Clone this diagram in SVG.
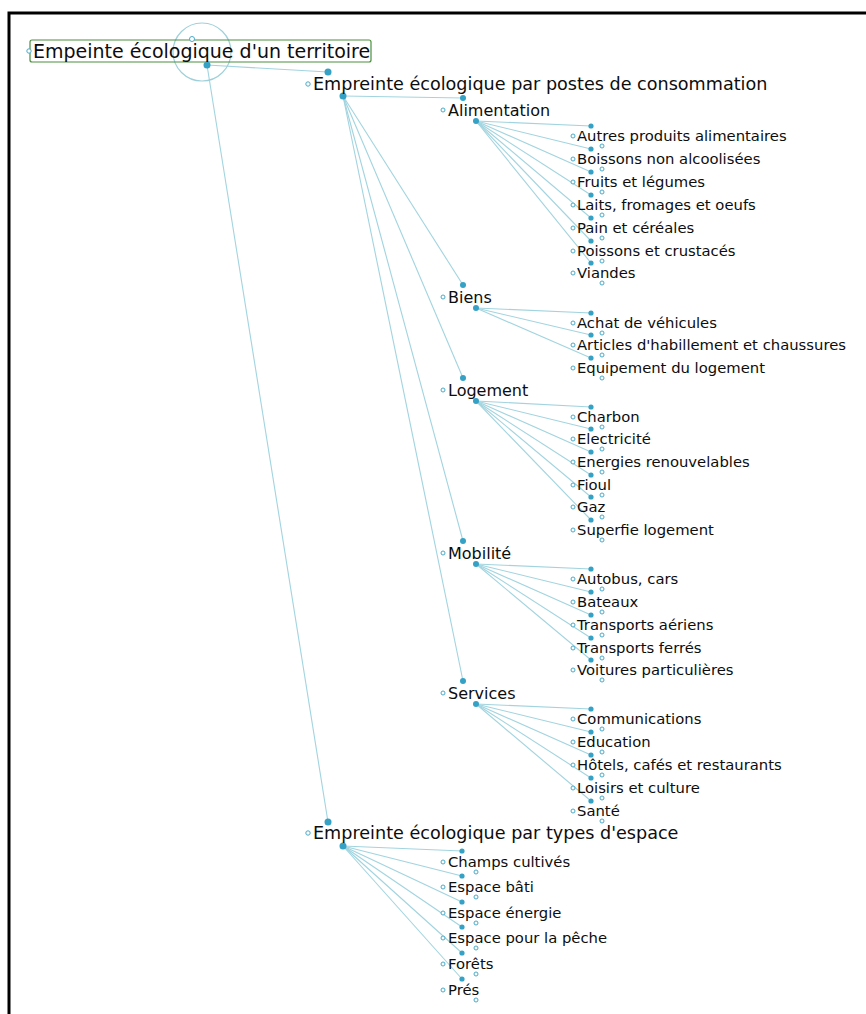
<svg xmlns="http://www.w3.org/2000/svg" width="866" height="1014" viewBox="0 0 866 1014">
<style>
.ln{stroke:#a2d4df;stroke-width:1.1;fill:none}
.dot{fill:#35a2c5}
.port{fill:#fff;stroke:#4aaac8;stroke-width:1}
text{font-family:"DejaVu Sans","Liberation Sans",sans-serif;fill:#0d0d0d}
.t0{font-size:19px}
.t1{font-size:17.6px}
.t2{font-size:16px}
.t3{font-size:14.8px}
</style>
<rect width="866" height="1014" fill="#fff"/>
<path d="M9,1014 V13 H866" fill="none" stroke="#000" stroke-width="3"/>
<g id="connectors">
<line class="ln" x1="207" y1="65" x2="328" y2="72"/>
<line class="ln" x1="207" y1="65" x2="328" y2="822"/>
<line class="ln" x1="343" y1="96" x2="463" y2="98"/>
<line class="ln" x1="343" y1="96" x2="463" y2="285"/>
<line class="ln" x1="343" y1="96" x2="463" y2="378"/>
<line class="ln" x1="343" y1="96" x2="463" y2="541"/>
<line class="ln" x1="343" y1="96" x2="463" y2="681"/>
<line class="ln" x1="476" y1="121" x2="591" y2="126"/>
<line class="ln" x1="476" y1="121" x2="591" y2="149"/>
<line class="ln" x1="476" y1="121" x2="591" y2="172"/>
<line class="ln" x1="476" y1="121" x2="591" y2="195"/>
<line class="ln" x1="476" y1="121" x2="591" y2="218"/>
<line class="ln" x1="476" y1="121" x2="591" y2="241"/>
<line class="ln" x1="476" y1="121" x2="591" y2="263"/>
<line class="ln" x1="476" y1="308" x2="591" y2="313"/>
<line class="ln" x1="476" y1="308" x2="591" y2="335"/>
<line class="ln" x1="476" y1="308" x2="591" y2="358"/>
<line class="ln" x1="476" y1="401" x2="591" y2="407"/>
<line class="ln" x1="476" y1="401" x2="591" y2="429"/>
<line class="ln" x1="476" y1="401" x2="591" y2="452"/>
<line class="ln" x1="476" y1="401" x2="591" y2="475"/>
<line class="ln" x1="476" y1="401" x2="591" y2="497"/>
<line class="ln" x1="476" y1="401" x2="591" y2="520"/>
<line class="ln" x1="476" y1="564" x2="591" y2="569"/>
<line class="ln" x1="476" y1="564" x2="591" y2="592"/>
<line class="ln" x1="476" y1="564" x2="591" y2="615"/>
<line class="ln" x1="476" y1="564" x2="591" y2="638"/>
<line class="ln" x1="476" y1="564" x2="591" y2="660"/>
<line class="ln" x1="476" y1="704" x2="591" y2="709"/>
<line class="ln" x1="476" y1="704" x2="591" y2="732"/>
<line class="ln" x1="476" y1="704" x2="591" y2="755"/>
<line class="ln" x1="476" y1="704" x2="591" y2="778"/>
<line class="ln" x1="476" y1="704" x2="591" y2="801"/>
<line class="ln" x1="343" y1="846" x2="462" y2="851"/>
<line class="ln" x1="343" y1="846" x2="462" y2="876"/>
<line class="ln" x1="343" y1="846" x2="462" y2="902"/>
<line class="ln" x1="343" y1="846" x2="462" y2="927"/>
<line class="ln" x1="343" y1="846" x2="462" y2="953"/>
<line class="ln" x1="343" y1="846" x2="462" y2="979"/>
</g>
<g id="root">
<circle cx="202" cy="52" r="29" fill="none" stroke="#9fd0da" stroke-width="1.2"/>
<rect x="30" y="40" width="341" height="22" rx="2" fill="none" stroke="#4a8f3c" stroke-width="1.2"/>
<circle class="port" cx="29" cy="51" r="2.2"/>
<circle class="port" cx="192" cy="39" r="2.5"/>
<circle class="dot" cx="207" cy="65" r="3.5"/>
<text class="t0" x="33" y="57.5">Empeinte écologique d'un territoire</text>
</g>
<g id="postes">
<circle class="dot" cx="328" cy="72" r="3.5"/>
<circle class="port" cx="308" cy="84" r="2.2"/>
<circle class="dot" cx="343" cy="96" r="3.5"/>
<text class="t1" x="313" y="90">Empreinte écologique par postes de consommation</text>
</g>
<g id="types">
<circle class="dot" cx="328" cy="822" r="3.5"/>
<circle class="port" cx="308" cy="833" r="2.2"/>
<circle class="dot" cx="343" cy="846" r="3.5"/>
<text class="t1" x="313" y="839">Empreinte écologique par types d'espace</text>
</g>
<g id="alimentation"><circle class="dot" cx="463" cy="98" r="3"/><circle class="port" cx="443" cy="110" r="2"/><circle class="dot" cx="476" cy="121" r="3"/><text class="t2" x="448" y="115.5">Alimentation</text></g>
<g id="biens"><circle class="dot" cx="463" cy="285" r="3"/><circle class="port" cx="443" cy="297" r="2"/><circle class="dot" cx="476" cy="308" r="3"/><text class="t2" x="448" y="302.5">Biens</text></g>
<g id="logement"><circle class="dot" cx="463" cy="378" r="3"/><circle class="port" cx="443" cy="390" r="2"/><circle class="dot" cx="476" cy="401" r="3"/><text class="t2" x="448" y="395.5">Logement</text></g>
<g id="mobilite"><circle class="dot" cx="463" cy="541" r="3"/><circle class="port" cx="443" cy="553" r="2"/><circle class="dot" cx="476" cy="564" r="3"/><text class="t2" x="448" y="558.5">Mobilité</text></g>
<g id="services"><circle class="dot" cx="463" cy="681" r="3"/><circle class="port" cx="443" cy="693" r="2"/><circle class="dot" cx="476" cy="704" r="3"/><text class="t2" x="448" y="698.5">Services</text></g>
<g id="autres"><circle class="dot" cx="591" cy="126" r="2.6"/><circle class="port" cx="573" cy="136" r="2"/><circle class="port" cx="602" cy="146" r="2"/><text class="t3" x="577" y="141">Autres produits alimentaires</text></g>
<g id="boissons"><circle class="dot" cx="591" cy="149" r="2.6"/><circle class="port" cx="573" cy="159" r="2"/><circle class="port" cx="602" cy="169" r="2"/><text class="t3" x="577" y="164">Boissons non alcoolisées</text></g>
<g id="fruits"><circle class="dot" cx="591" cy="172" r="2.6"/><circle class="port" cx="573" cy="182" r="2"/><circle class="port" cx="602" cy="192" r="2"/><text class="t3" x="577" y="187">Fruits et légumes</text></g>
<g id="laits"><circle class="dot" cx="591" cy="195" r="2.6"/><circle class="port" cx="573" cy="205" r="2"/><circle class="port" cx="602" cy="215" r="2"/><text class="t3" x="577" y="210">Laits, fromages et oeufs</text></g>
<g id="pain"><circle class="dot" cx="591" cy="218" r="2.6"/><circle class="port" cx="573" cy="228" r="2"/><circle class="port" cx="602" cy="238" r="2"/><text class="t3" x="577" y="233">Pain et céréales</text></g>
<g id="poissons"><circle class="dot" cx="591" cy="241" r="2.6"/><circle class="port" cx="573" cy="251" r="2"/><circle class="port" cx="602" cy="261" r="2"/><text class="t3" x="577" y="256">Poissons et crustacés</text></g>
<g id="viandes"><circle class="dot" cx="591" cy="263" r="2.6"/><circle class="port" cx="573" cy="273" r="2"/><circle class="port" cx="602" cy="283" r="2"/><text class="t3" x="577" y="278">Viandes</text></g>
<g id="achat"><circle class="dot" cx="591" cy="313" r="2.6"/><circle class="port" cx="573" cy="323" r="2"/><circle class="port" cx="602" cy="333" r="2"/><text class="t3" x="577" y="328">Achat de véhicules</text></g>
<g id="articles"><circle class="dot" cx="591" cy="335" r="2.6"/><circle class="port" cx="573" cy="345" r="2"/><circle class="port" cx="602" cy="355" r="2"/><text class="t3" x="577" y="350">Articles d'habillement et chaussures</text></g>
<g id="equipement"><circle class="dot" cx="591" cy="358" r="2.6"/><circle class="port" cx="573" cy="368" r="2"/><circle class="port" cx="602" cy="378" r="2"/><text class="t3" x="577" y="373">Equipement du logement</text></g>
<g id="charbon"><circle class="dot" cx="591" cy="407" r="2.6"/><circle class="port" cx="573" cy="417" r="2"/><circle class="port" cx="602" cy="427" r="2"/><text class="t3" x="577" y="422">Charbon</text></g>
<g id="electricite"><circle class="dot" cx="591" cy="429" r="2.6"/><circle class="port" cx="573" cy="439" r="2"/><circle class="port" cx="602" cy="449" r="2"/><text class="t3" x="577" y="444">Electricité</text></g>
<g id="energies"><circle class="dot" cx="591" cy="452" r="2.6"/><circle class="port" cx="573" cy="462" r="2"/><circle class="port" cx="602" cy="472" r="2"/><text class="t3" x="577" y="467">Energies renouvelables</text></g>
<g id="fioul"><circle class="dot" cx="591" cy="475" r="2.6"/><circle class="port" cx="573" cy="485" r="2"/><circle class="port" cx="602" cy="495" r="2"/><text class="t3" x="577" y="490">Fioul</text></g>
<g id="gaz"><circle class="dot" cx="591" cy="497" r="2.6"/><circle class="port" cx="573" cy="507" r="2"/><circle class="port" cx="602" cy="517" r="2"/><text class="t3" x="577" y="512">Gaz</text></g>
<g id="superfie"><circle class="dot" cx="591" cy="520" r="2.6"/><circle class="port" cx="573" cy="530" r="2"/><circle class="port" cx="602" cy="540" r="2"/><text class="t3" x="577" y="535">Superfie logement</text></g>
<g id="autobus"><circle class="dot" cx="591" cy="569" r="2.6"/><circle class="port" cx="573" cy="579" r="2"/><circle class="port" cx="602" cy="589" r="2"/><text class="t3" x="577" y="584">Autobus, cars</text></g>
<g id="bateaux"><circle class="dot" cx="591" cy="592" r="2.6"/><circle class="port" cx="573" cy="602" r="2"/><circle class="port" cx="602" cy="612" r="2"/><text class="t3" x="577" y="607">Bateaux</text></g>
<g id="aeriens"><circle class="dot" cx="591" cy="615" r="2.6"/><circle class="port" cx="573" cy="625" r="2"/><circle class="port" cx="602" cy="635" r="2"/><text class="t3" x="577" y="630">Transports aériens</text></g>
<g id="ferres"><circle class="dot" cx="591" cy="638" r="2.6"/><circle class="port" cx="573" cy="648" r="2"/><circle class="port" cx="602" cy="658" r="2"/><text class="t3" x="577" y="653">Transports ferrés</text></g>
<g id="voitures"><circle class="dot" cx="591" cy="660" r="2.6"/><circle class="port" cx="573" cy="670" r="2"/><circle class="port" cx="602" cy="680" r="2"/><text class="t3" x="577" y="675">Voitures particulières</text></g>
<g id="communications"><circle class="dot" cx="591" cy="709" r="2.6"/><circle class="port" cx="573" cy="719" r="2"/><circle class="port" cx="602" cy="729" r="2"/><text class="t3" x="577" y="724">Communications</text></g>
<g id="education"><circle class="dot" cx="591" cy="732" r="2.6"/><circle class="port" cx="573" cy="742" r="2"/><circle class="port" cx="602" cy="752" r="2"/><text class="t3" x="577" y="747">Education</text></g>
<g id="hotels"><circle class="dot" cx="591" cy="755" r="2.6"/><circle class="port" cx="573" cy="765" r="2"/><circle class="port" cx="602" cy="775" r="2"/><text class="t3" x="577" y="770">Hôtels, cafés et restaurants</text></g>
<g id="loisirs"><circle class="dot" cx="591" cy="778" r="2.6"/><circle class="port" cx="573" cy="788" r="2"/><circle class="port" cx="602" cy="798" r="2"/><text class="t3" x="577" y="793">Loisirs et culture</text></g>
<g id="sante"><circle class="dot" cx="591" cy="801" r="2.6"/><circle class="port" cx="573" cy="811" r="2"/><circle class="port" cx="602" cy="821" r="2"/><text class="t3" x="577" y="816">Santé</text></g>
<g id="champs"><circle class="dot" cx="462" cy="851" r="2.6"/><circle class="port" cx="443" cy="862" r="2"/><circle class="port" cx="476" cy="872" r="2"/><text class="t3" x="448" y="867">Champs cultivés</text></g>
<g id="bati"><circle class="dot" cx="462" cy="876" r="2.6"/><circle class="port" cx="443" cy="887" r="2"/><circle class="port" cx="476" cy="897" r="2"/><text class="t3" x="448" y="892">Espace bâti</text></g>
<g id="energie"><circle class="dot" cx="462" cy="902" r="2.6"/><circle class="port" cx="443" cy="913" r="2"/><circle class="port" cx="476" cy="923" r="2"/><text class="t3" x="448" y="918">Espace énergie</text></g>
<g id="peche"><circle class="dot" cx="462" cy="927" r="2.6"/><circle class="port" cx="443" cy="938" r="2"/><circle class="port" cx="476" cy="948" r="2"/><text class="t3" x="448" y="943">Espace pour la pêche</text></g>
<g id="forets"><circle class="dot" cx="462" cy="953" r="2.6"/><circle class="port" cx="443" cy="964" r="2"/><circle class="port" cx="476" cy="974" r="2"/><text class="t3" x="448" y="969">Forêts</text></g>
<g id="pres"><circle class="dot" cx="462" cy="979" r="2.6"/><circle class="port" cx="443" cy="990" r="2"/><circle class="port" cx="476" cy="1000" r="2"/><text class="t3" x="448" y="995">Prés</text></g>
</svg>
